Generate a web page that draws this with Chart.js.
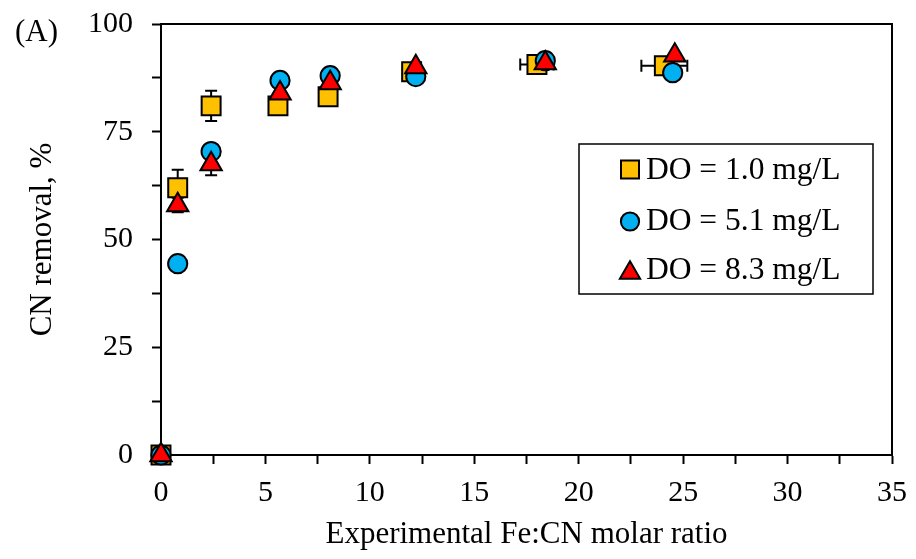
<!DOCTYPE html>
<html><head><meta charset="utf-8">
<script src="https://cdn.jsdelivr.net/npm/chart.js@4.4.1/dist/chart.umd.min.js"></script>
<style>html,body{margin:0;padding:0;background:#fff}#wrap{width:916px;height:559px;position:relative}</style>
</head><body><div id="wrap"><canvas id="c" width="916" height="559"></canvas></div>
<script>
// ---- data ----
const seriesLabels = ['DO = 1.0 mg/L', 'DO = 5.1 mg/L', 'DO = 8.3 mg/L'];
const do10X = [0, 0.8, 2.4, 5.6, 8.0, 12.0, 18.0, 24.1];
const do10Y = [0, 62.0, 81.0, 81.0, 83.1, 88.9, 90.6, 90.3];
const do10YErr = [0, 4.2, 3.5, 0, 0, 0, 0, 0];
const do10XErr = [0, 0, 0, 0, 0, 0.35, 0.8, 1.1];
const do51X = [0, 0.8, 2.4, 5.7, 8.1, 12.2, 18.4, 24.5];
const do51Y = [0, 44.4, 70.4, 86.9, 88.0, 87.8, 91.5, 88.7];
const do51YErr = [0, 0, 0, 0, 0, 0, 0, 0];
const do51XErr = [0, 0, 0, 0, 0, 0, 0, 0];
const do83X = [0, 0.8, 2.4, 5.7, 8.1, 12.2, 18.4, 24.6];
const do83Y = [0, 58.0, 67.5, 83.9, 86.3, 90.0, 90.9, 92.7];
const do83YErr = [0, 1.7, 2.6, 0, 0, 0, 0, 0];
const do83XErr = [0, 0, 0, 0, 0, 0, 0, 0];
const xTickLabels = [0, 5, 10, 15, 20, 25, 30, 35];
const yTickLabels = [0, 25, 50, 75, 100];

const FONT = '"Liberation Serif", "Times New Roman", serif';
const colors = ['#FFC000', '#00B0F0', '#FF0000'];
const styles = ['rect', 'circle', 'triangle'];
const radii = [13.4, 9.6, 12.3];

function pts(xs, ys) { return xs.map((x, i) => ({x: x, y: ys[i]})); }
const errs = [[do10XErr, do10YErr], [do51XErr, do51YErr], [do83XErr, do83YErr]];

const errorBarPlugin = {
  id: 'errorBars',
  beforeDatasetsDraw(chart) {
    const ctx = chart.ctx, xs = chart.scales.x, ys = chart.scales.y;
    ctx.save();
    ctx.strokeStyle = '#000';
    ctx.lineWidth = 2;
    const cap = 6;
    chart.data.datasets.forEach((ds, di) => {
      const [xe, ye] = errs[di];
      ds.data.forEach((p, i) => {
        const px = xs.getPixelForValue(p.x), py = ys.getPixelForValue(p.y);
        if (ye[i] > 0) {
          const t = ys.getPixelForValue(p.y + ye[i]), b = ys.getPixelForValue(p.y - ye[i]);
          ctx.beginPath();
          ctx.moveTo(px, t); ctx.lineTo(px, b);
          ctx.moveTo(px - cap, t); ctx.lineTo(px + cap, t);
          ctx.moveTo(px - cap, b); ctx.lineTo(px + cap, b);
          ctx.stroke();
        }
        if (xe[i] > 0) {
          const l = xs.getPixelForValue(p.x - xe[i]), r = xs.getPixelForValue(p.x + xe[i]);
          ctx.beginPath();
          ctx.moveTo(l, py); ctx.lineTo(r, py);
          ctx.moveTo(l, py - cap); ctx.lineTo(l, py + cap);
          ctx.moveTo(r, py - cap); ctx.lineTo(r, py + cap);
          ctx.stroke();
        }
      });
    });
    // frame top and right
    const a = chart.chartArea;
    ctx.lineWidth = 2;
    ctx.beginPath();
    ctx.moveTo(a.left, a.top); ctx.lineTo(a.right, a.top); ctx.lineTo(a.right, a.bottom);
    ctx.stroke();
    ctx.restore();
  }
};

function drawMarker(ctx, style, r, x, y) {
  if (Chart.helpers && Chart.helpers.drawPoint) {
    Chart.helpers.drawPoint(ctx, {pointStyle: style, radius: r, rotation: 0, borderWidth: 2}, x, y);
    return;
  }
  ctx.beginPath();
  if (style === 'rect') { const s = r * Math.SQRT1_2; ctx.rect(x - s, y - s, 2 * s, 2 * s); }
  else if (style === 'circle') { ctx.arc(x, y, r, 0, Math.PI * 2); }
  else { ctx.moveTo(x, y - r); ctx.lineTo(x + r * 0.866, y + r / 2); ctx.lineTo(x - r * 0.866, y + r / 2); ctx.closePath(); }
  ctx.fill(); ctx.stroke();
}

const legendPlugin = {
  id: 'boxLegend',
  afterDraw(chart) {
    const ctx = chart.ctx;
    ctx.save();
    ctx.strokeStyle = '#000';
    ctx.lineWidth = 1.5;
    ctx.strokeRect(579, 144, 294, 150);
    const rows = [169.5, 221.5, 273];
    const bases = [178.5, 229.5, 279];
    seriesLabels.forEach((lab, i) => {
      ctx.fillStyle = colors[i];
      ctx.strokeStyle = '#000';
      ctx.lineWidth = 2;
      drawMarker(ctx, styles[i], radii[i] * 0.95, 630, rows[i]);
      ctx.fillStyle = '#000';
      ctx.font = '31.5px ' + FONT;
      ctx.textAlign = 'left';
      ctx.textBaseline = 'alphabetic';
      ctx.fillText(lab, 646, bases[i]);
    });
    ctx.font = '31px ' + FONT;
    ctx.fillStyle = '#000';
    ctx.fillText('(A)', 15, 41);
    ctx.restore();
  }
};

const datasets = [
  {label: seriesLabels[0], data: pts(do10X, do10Y), order: 2},
  {label: seriesLabels[1], data: pts(do51X, do51Y), order: 1},
  {label: seriesLabels[2], data: pts(do83X, do83Y), order: 0}
].map((d, i) => Object.assign(d, {
  backgroundColor: colors[i], borderColor: '#000', borderWidth: 2,
  pointStyle: styles[i], pointRadius: radii[i], pointHoverRadius: radii[i],
  pointBorderWidth: 2, showLine: false, clip: false
}));

new Chart(document.getElementById('c'), {
  type: 'scatter',
  data: {datasets},
  plugins: [errorBarPlugin, legendPlugin],
  options: {
    responsive: false, animation: false, devicePixelRatio: 1,
    layout: {padding: {top: 24, right: 24, left: 0, bottom: 0}},
    plugins: {legend: {display: false}, tooltip: {enabled: false}},
    scales: {
      x: {
        type: 'linear', min: 0, max: 35,
        afterFit(s) { s.height = 104; s.paddingLeft = 0; s.paddingRight = 0; },
        ticks: {stepSize: 2.5, autoSkip: false, maxRotation: 0, padding: 11, color: '#000',
          font: {family: FONT, size: 30},
          callback: v => (xTickLabels.includes(v) ? String(v) : '')},
        grid: {drawOnChartArea: false, drawTicks: true, tickLength: 9, tickColor: '#000', tickWidth: 2},
        border: {display: true, color: '#000', width: 2},
        title: {display: true, text: 'Experimental Fe:CN molar ratio', color: '#000',
          font: {family: FONT, size: 31}, padding: {top: 0, bottom: 6}}
      },
      y: {
        type: 'linear', min: 0, max: 100,
        afterFit(s) { s.width = 161; s.paddingTop = 0; s.paddingBottom = 0; },
        ticks: {stepSize: 12.5, autoSkip: false, padding: 19, color: '#000',
          font: {family: FONT, size: 30},
          callback: v => (yTickLabels.includes(v) ? String(v) : '')},
        grid: {drawOnChartArea: false, drawTicks: true, tickLength: 9, tickColor: '#000', tickWidth: 2},
        border: {display: true, color: '#000', width: 2},
        title: {display: true, text: 'CN removal, %', color: '#000',
          font: {family: FONT, size: 31}, padding: {top: 24, bottom: 0}}
      }
    }
  }
});
</script></body></html>
